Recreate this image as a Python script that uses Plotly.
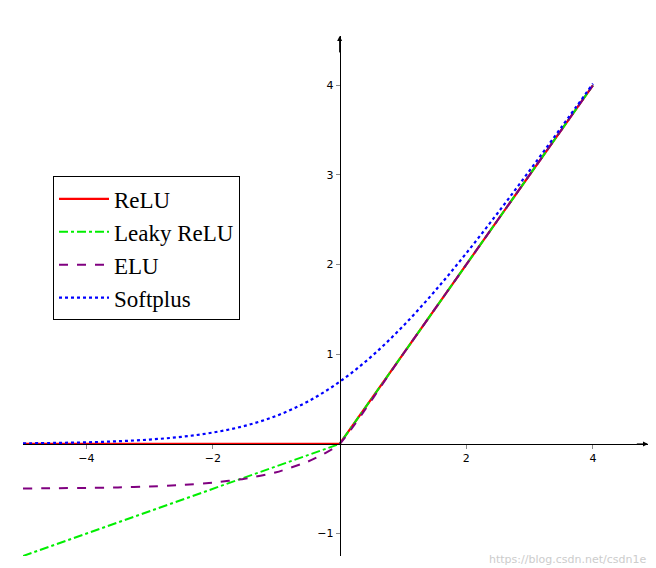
import plotly.graph_objects as go

x_smooth = [-5, -4.5, -4, -3.5, -3, -2.5, -2, -1.5, -1, -0.5, 0, 0.5, 1, 1.5, 2, 2.5, 3, 3.5, 4]
softplus = [0.0067, 0.011, 0.018, 0.030, 0.049, 0.079, 0.127, 0.201, 0.313, 0.474, 0.693,
            0.974, 1.313, 1.701, 2.127, 2.579, 3.049, 3.530, 4.018]
x_elu = [-5, -4.5, -4, -3.5, -3, -2.5, -2, -1.5, -1, -0.5, -0.25, 0, 1, 2, 3, 4]
elu = [-0.497, -0.494, -0.491, -0.485, -0.475, -0.459, -0.432, -0.388, -0.316, -0.197, -0.111, 0, 1, 2, 3, 4]
x_lin = [-5, 0, 4]
relu = [0, 0, 4]
leaky = [-1.25, 0, 4]
xticks = [-4, -2, 2, 4]
yticks = [-1, 1, 2, 3, 4]

fig = go.Figure()
fig.add_trace(go.Scatter(x=x_lin, y=relu, mode='lines', name='ReLU', line=dict(color='red', width=2.2)))
fig.add_trace(go.Scatter(x=x_lin, y=leaky, mode='lines', name='Leaky ReLU', line=dict(color='#00ee00', width=2, dash='dashdot')))
fig.add_trace(go.Scatter(x=x_elu, y=elu, mode='lines', name='ELU', line=dict(color='purple', width=2, dash='dash', shape='spline', smoothing=0.6)))
fig.add_trace(go.Scatter(x=x_smooth, y=softplus, mode='lines', name='Softplus', line=dict(color='blue', width=2.2, dash='dot', shape='spline')))

XR = [-5, 4.87]
YR = [-1.25, 4.55]
fig.update_layout(
    width=656, height=568, plot_bgcolor='white', paper_bgcolor='white',
    margin=dict(l=15, r=16, t=28, b=20, autoexpand=False),
    font=dict(family='DejaVu Sans', size=11, color='black'),
    xaxis=dict(range=XR, showgrid=False, zeroline=False, showline=True, linecolor='black', linewidth=1,
               anchor='free', position=(0 - YR[0]) / (YR[1] - YR[0]), automargin=False,
               tickvals=xticks, ticktext=[('−' + str(-v)) if v < 0 else str(v) for v in xticks],
               ticks='outside', ticklen=4, tickcolor='#888'),
    yaxis=dict(range=YR, showgrid=False, zeroline=False, showline=True, linecolor='black', linewidth=1,
               anchor='free', position=(0 - XR[0]) / (XR[1] - XR[0]), automargin=False,
               tickvals=yticks, ticktext=[('−' + str(-v)) if v < 0 else str(v) for v in yticks],
               ticks='outside', ticklen=4, tickcolor='#888'),
    legend=dict(x=0.048, y=0.73, xanchor='left', yanchor='top', bordercolor='black', borderwidth=1,
                font=dict(family='Liberation Serif', size=23), bgcolor='white', tracegroupgap=0,
                itemwidth=50),
    showlegend=True,
)
fig.add_annotation(x=XR[1], y=0, ax=XR[1] - 0.2, ay=0, xref='x', yref='y', axref='x', ayref='y',
                   text='', showarrow=True, arrowhead=2, arrowsize=1, arrowwidth=1, arrowcolor='black')
fig.add_annotation(x=0, y=YR[1], ax=0, ay=YR[1] - 0.2, xref='x', yref='y', axref='x', ayref='y',
                   text='', showarrow=True, arrowhead=2, arrowsize=1, arrowwidth=1, arrowcolor='black')
fig.add_annotation(x=1, y=0, xref='paper', yref='paper', xanchor='right', yanchor='bottom',
                   text='https://blog.csdn.net/csdn1e', showarrow=False,
                   font=dict(size=11, color='#cccccc'), yshift=-12)
fig.write_html('out.html')
